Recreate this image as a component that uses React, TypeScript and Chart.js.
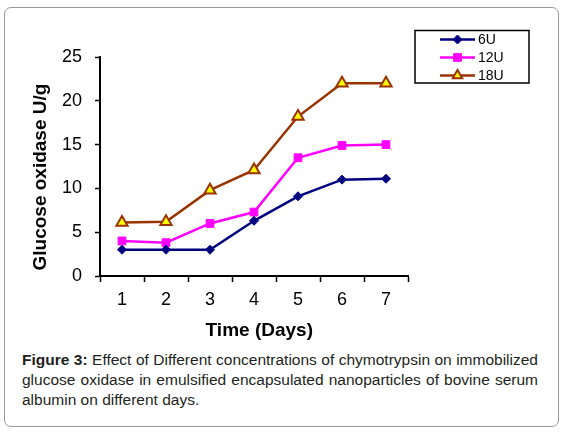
import React, { useEffect, useRef } from 'react';
import { Chart, registerables } from 'chart.js';
import { drawPoint } from 'chart.js/helpers';

Chart.register(...registerables);

const days = ['1', '2', '3', '4', '5', '6', '7'];
const series6U = [3.0, 3.0, 3.0, 6.3, 9.1, 11.0, 11.1];
const series12U = [4.0, 3.8, 6.0, 7.3, 13.5, 14.9, 15.0];
const series18U = [6.1, 6.2, 9.8, 12.1, 18.2, 22.0, 22.0];
const seriesNames = ['6U', '12U', '18U'];
const yMin = 0;
const yMax = 25;
const yStep = 5;
const xTitle = 'Time (Days)';
const yTitle = 'Glucose oxidase U/g';
const captionLines = [
  'Effect of Different concentrations of chymotrypsin on immobilized',
  'glucose oxidase in emulsified encapsulated nanoparticles of bovine serum',
  'albumin on different days.',
];

const FONT = "'Liberation Sans', Arial, sans-serif";

const boxLegend = {
  id: 'boxLegend',
  afterDraw(chart: any) {
    const ctx = chart.ctx;
    ctx.save();
    ctx.strokeStyle = '#000';
    ctx.lineWidth = 1.5;
    ctx.strokeRect(415, 30.5, 114, 52.5);
    chart.data.datasets.forEach((ds: any, i: number) => {
      const y = 39.5 + 18 * i;
      ctx.strokeStyle = ds.borderColor;
      ctx.lineWidth = ds.borderWidth;
      ctx.beginPath();
      ctx.moveTo(440, y);
      ctx.lineTo(475, y);
      ctx.stroke();
      ctx.fillStyle = ds.pointBackgroundColor;
      ctx.strokeStyle = ds.pointBorderColor;
      ctx.lineWidth = ds.pointBorderWidth;
      drawPoint(ctx, {
        pointStyle: ds.pointStyle,
        radius: ds.legendRadius,
        rotation: 0,
        borderWidth: ds.pointBorderWidth,
      } as any, 457.5, y);
      ctx.fillStyle = '#000';
      ctx.font = `14px ${FONT}`;
      ctx.textAlign = 'left';
      ctx.textBaseline = 'middle';
      ctx.fillText(ds.label, 478, y + 0.5);
    });
    ctx.restore();
  },
};

function LineChart() {
  const ref = useRef<HTMLCanvasElement | null>(null);
  useEffect(() => {
    if (!ref.current) return;
    const chart = new Chart(ref.current, {
      type: 'line',
      data: {
        labels: days,
        datasets: [
          {
            label: seriesNames[0],
            data: series6U,
            borderColor: '#000080',
            backgroundColor: '#000080',
            pointBackgroundColor: '#000080',
            pointBorderColor: '#000080',
            pointStyle: 'rectRot',
            pointRadius: 4.5,
            pointBorderWidth: 1,
            borderWidth: 2.5,
            legendRadius: 4.5,
            tension: 0,
          } as any,
          {
            label: seriesNames[1],
            data: series12U,
            borderColor: '#FF00FF',
            backgroundColor: '#FF00FF',
            pointBackgroundColor: '#FF00FF',
            pointBorderColor: '#FF00FF',
            pointStyle: 'rect',
            pointRadius: 5.5,
            pointBorderWidth: 1,
            borderWidth: 2.5,
            legendRadius: 5.5,
            tension: 0,
          } as any,
          {
            label: seriesNames[2],
            data: series18U,
            borderColor: '#993300',
            backgroundColor: '#FFFF00',
            pointBackgroundColor: '#FFFF00',
            pointBorderColor: '#993300',
            pointStyle: 'triangle',
            pointRadius: 6.5,
            pointBorderWidth: 2,
            borderWidth: 2.5,
            legendRadius: 5.5,
            tension: 0,
          } as any,
        ],
      },
      options: {
        responsive: false,
        animation: false,
        devicePixelRatio: 1,
        layout: { padding: { left: 0, right: 157, top: 57, bottom: 0 } },
        plugins: {
          legend: { display: false },
          tooltip: { enabled: false },
        },
        scales: {
          x: {
            type: 'category',
            offset: true,
            afterFit: (s: any) => { s.height = 69; },
            grid: {
              offset: true,
              drawOnChartArea: false,
              drawTicks: true,
              tickLength: 6,
              tickColor: '#000',
              tickWidth: 1.5,
            },
            border: { display: true, color: '#000', width: 2 },
            ticks: {
              color: '#000',
              padding: 7,
              font: { family: FONT, size: 18 },
              maxRotation: 0,
            },
            title: {
              display: true,
              text: '  ' + xTitle,
              color: '#000',
              font: { family: FONT, size: 19, weight: 'bold' },
              padding: { top: 0, bottom: 2.6 },
            },
          },
          y: {
            min: yMin,
            max: yMax,
            afterFit: (s: any) => { s.width = 100; },
            grid: {
              drawOnChartArea: false,
              drawTicks: true,
              tickLength: 5,
              tickColor: '#000',
              tickWidth: 1.5,
            },
            border: { display: true, color: '#000', width: 2 },
            ticks: {
              stepSize: yStep,
              color: '#000',
              padding: 13,
              font: { family: FONT, size: 18 },
            },
            title: {
              display: true,
              text: yTitle + '    ',
              color: '#000',
              font: { family: FONT, size: 19, weight: 'bold' },
              padding: { top: 29, bottom: 0 },
            },
          },
        },
      } as any,
      plugins: [boxLegend],
    });
    return () => chart.destroy();
  }, []);
  return (
    <canvas
      ref={ref}
      width={565}
      height={345}
      style={{ position: 'absolute', left: 0, top: 0, width: 565, height: 345 }}
    />
  );
}

export default function App() {
  const lineStyle: React.CSSProperties = {
    position: 'absolute',
    left: 22,
    width: 516,
    height: 20,
    lineHeight: '20px',
    fontSize: 15.5,
    fontFamily: FONT,
    color: '#231F20',
    whiteSpace: 'nowrap',
  };
  const justified: React.CSSProperties = {
    ...lineStyle,
    whiteSpace: 'normal',
    textAlign: 'justify',
    textAlignLast: 'justify',
  };
  return (
    <div style={{ position: 'absolute', left: 0, top: 0, width: 565, height: 433, background: '#fff' }}>
      <div
        style={{
          position: 'absolute',
          left: 4,
          top: 7,
          width: 555,
          height: 420,
          boxSizing: 'border-box',
          border: '1px solid #9a9a9a',
          borderRadius: 7,
        }}
      />
      <LineChart />
      <div style={{ ...justified, top: 350 }}>
        <b>Figure 3:</b> {captionLines[0]}
      </div>
      <div style={{ ...justified, top: 370 }}>{captionLines[1]}</div>
      <div style={{ ...lineStyle, top: 390 }}>{captionLines[2]}</div>
    </div>
  );
}
